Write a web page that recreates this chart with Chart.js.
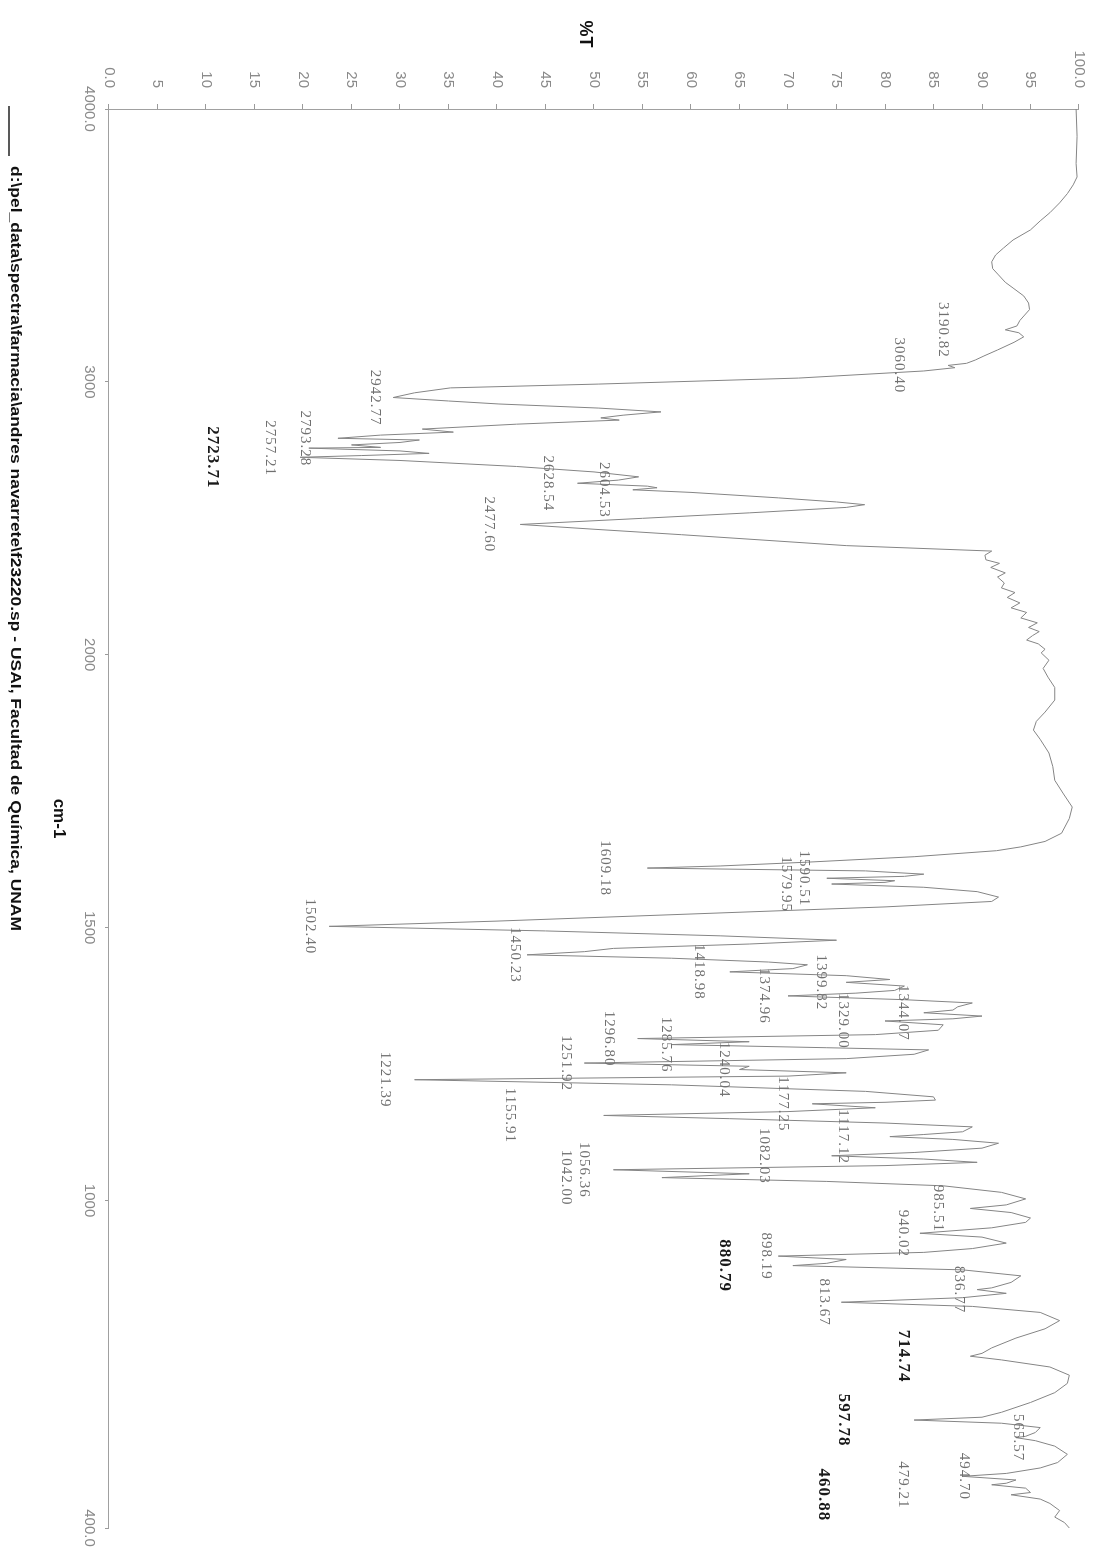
<!DOCTYPE html>
<html>
<head>
<meta charset="utf-8">
<script src="https://cdn.jsdelivr.net/npm/chart.js@4.4.0/dist/chart.umd.min.js"></script>
<style>
  html, body { margin: 0; padding: 0; background: #fff; overflow: hidden; }
  /* the printout is turned a quarter turn clockwise on the page */
  #wrap { position: absolute; left: 0; top: 0; width: 1556px; height: 1104px;
          transform-origin: 0 0; transform: translate(1104px, 0) rotate(90deg); }
</style>
</head>
<body>
<div id="wrap"><canvas id="spectrum" width="1556" height="1104"></canvas></div>
<script>
// wavenumber (cm-1) and transmittance (%T)
var wavenumbers = [
  4000, 3900, 3800, 3751, 3722, 3690, 3656, 3620, 3590, 3557, 3520, 3490, 3465, 3440, 3415, 3392,
  3365, 3344, 3315, 3289, 3265, 3245, 3225, 3205, 3190.82, 3180, 3165, 3145, 3117, 3095, 3080, 3068,
  3060.4, 3052, 3040, 3014, 2992, 2978, 2960, 2942.77, 2930, 2919, 2904, 2890, 2878, 2868, 2860, 2845,
  2827, 2816, 2805, 2793.28, 2787, 2778, 2769, 2760, 2757.21, 2747, 2738, 2730, 2723.71, 2712, 2690, 2670,
  2652, 2640, 2628.54, 2618, 2612, 2604.53, 2595, 2575, 2560, 2550, 2540, 2520, 2500, 2477.6, 2460, 2440,
  2422, 2400, 2380, 2365, 2348, 2335, 2320, 2300, 2285, 2263, 2245, 2228, 2210, 2190, 2172, 2155,
  2135, 2117, 2100, 2085, 2070, 2054, 2040, 2020, 2007, 1990, 1975, 1959, 1940, 1917, 1895, 1878,
  1862, 1845, 1820, 1795, 1770, 1745, 1721, 1700, 1673, 1658, 1648, 1641, 1630, 1620, 1613, 1609.18,
  1604, 1598, 1594, 1590.51, 1586, 1583, 1579.95, 1574, 1566, 1556, 1548, 1538, 1525, 1512, 1502.4, 1494,
  1485, 1477, 1470, 1462, 1456, 1450.23, 1444, 1437, 1432, 1425, 1418.98, 1412, 1405, 1399.82, 1393, 1385,
  1380, 1374.96, 1368, 1362, 1355, 1349, 1344.07, 1338, 1333, 1329, 1322, 1312, 1304, 1296.8, 1291, 1285.76,
  1280, 1276, 1268, 1260, 1251.92, 1246, 1240.04, 1234, 1228, 1221.39, 1212, 1200, 1190, 1184, 1180, 1177.25,
  1170, 1163, 1155.91, 1150, 1142, 1135, 1126, 1121, 1117.12, 1112, 1105, 1096, 1088, 1082.03, 1076, 1070,
  1064, 1056.36, 1049, 1042, 1035, 1027, 1015, 1003, 992, 985.51, 978, 968, 960, 950, 940.02, 933,
  922, 912, 905, 898.19, 892, 885, 880.79, 873, 862, 850, 840, 836.77, 830, 822, 813.67, 806,
  795, 780, 765, 748, 730, 720, 714.74, 708, 695, 680, 665, 648, 630, 612, 603, 597.78,
  592, 584, 575, 568, 565.57, 560, 550, 535, 520, 510, 500, 494.7, 488, 482, 479.21, 473,
  465, 460.88, 453, 445, 432, 420, 410, 400
];
var transmittance = [
  99.7, 99.8, 99.7, 99.8, 99.4, 98.8, 98.0, 97.0, 96.0, 95.0, 93.2, 92.2, 91.4, 91.0, 91.1, 91.7,
  92.4, 93.2, 94.3, 94.8, 94.9, 94.4, 93.9, 93.6, 92.4, 93.8, 94.3, 93.3, 91.6, 90.2, 89.3, 88.4,
  86.5, 87.2, 84.0, 71.1, 50.5, 35.2, 31.5, 29.3, 35.0, 40.2, 50.5, 56.9, 53.0, 50.7, 52.6, 42.0,
  32.3, 35.5, 28.0, 23.6, 32.0, 30.0, 25.0, 28.0, 20.6, 30.0, 33.0, 26.0, 19.7, 30.0, 42.0, 50.0,
  54.6, 52.5, 48.3, 55.5, 56.5, 54.0, 60.0, 69.0, 75.0, 77.9, 76.0, 66.0, 55.0, 42.4, 50.0, 59.0,
  66.7, 76.0, 91.0, 90.3, 90.4, 91.8, 90.9, 92.4, 91.6, 92.3, 92.0, 93.4, 92.6, 93.9, 93.0, 94.6,
  94.0, 95.7, 94.8, 95.9, 95.2, 94.6, 95.8, 96.5, 96.1, 96.9, 96.3, 96.8, 97.5, 97.5, 96.5, 95.6,
  95.3, 96.0, 96.9, 97.3, 97.5, 98.4, 99.3, 99.0, 98.2, 96.5, 94.0, 91.5, 83.0, 72.0, 63.0, 55.5,
  78.0, 84.0, 82.0, 74.0, 81.0, 80.0, 74.5, 84.0, 89.5, 91.7, 91.0, 80.0, 60.0, 40.0, 22.7, 45.0,
  63.0, 75.0, 66.0, 52.0, 49.0, 43.1, 58.0, 68.0, 72.0, 70.5, 64.0, 76.0, 80.5, 76.0, 82.0, 81.0,
  77.0, 70.0, 82.0, 89.0, 87.5, 87.0, 84.0, 90.0, 87.0, 80.0, 86.0, 85.5, 79.0, 54.5, 66.0, 58.0,
  74.0, 84.5, 83.0, 76.0, 49.0, 66.0, 65.0, 76.0, 70.0, 31.5, 58.0, 78.0, 85.0, 85.2, 80.0, 72.5,
  79.0, 70.0, 51.0, 64.0, 80.0, 89.0, 88.0, 84.0, 80.5, 87.0, 91.7, 90.0, 83.0, 74.5, 84.0, 89.5,
  80.0, 52.0, 66.0, 57.0, 74.0, 86.0, 92.0, 94.5, 92.5, 88.8, 93.0, 95.0, 94.5, 91.0, 83.6, 90.0,
  92.5, 89.0, 84.0, 69.0, 76.0, 74.0, 70.5, 88.0, 94.0, 93.0, 91.0, 89.5, 92.5, 88.0, 75.5, 89.0,
  96.0, 98.0, 96.5, 93.5, 91.0, 90.0, 88.8, 92.0, 97.0, 99.0, 98.8, 97.5, 95.0, 92.0, 90.0, 83.0,
  92.0, 96.0, 95.5, 94.5, 93.5, 95.5, 97.5, 98.8, 97.8, 96.0, 92.5, 88.0, 93.5, 92.5, 91.0, 94.5,
  95.0, 93.0, 96.0, 97.0, 98.0, 97.5, 98.5, 99.0
];

// peak labels: text, where its centre sits on the %T axis, bold or not
var peakLabels = ['3190.82', '3060.40', '2942.77', '2793.28', '2757.21', '2723.71', '2628.54', '2604.53',
  '2477.60', '1609.18', '1590.51', '1579.95', '1502.40', '1450.23', '1418.98', '1399.82', '1374.96',
  '1344.07', '1329.00', '1296.80', '1285.76', '1251.92', '1240.04', '1221.39', '1177.25', '1155.91',
  '1117.12', '1082.03', '1056.36', '1042.00', '985.51', '940.02', '898.19', '880.79', '836.77',
  '813.67', '714.74', '597.78', '565.57', '494.70', '479.21', '460.88'];
var peakLabelT = [86.0, 81.4, 27.4, 20.2, 16.6, 10.7, 45.2, 51.0,
  39.2, 51.1, 71.6, 69.8, 20.7, 41.8, 60.8, 73.4, 67.5,
  81.9, 75.7, 51.5, 57.4, 47.1, 63.4, 28.4, 69.5, 41.3,
  75.7, 67.5, 49.0, 47.1, 85.5, 81.9, 67.7, 63.4, 87.6,
  73.7, 81.9, 75.7, 93.7, 88.1, 81.9, 73.7];
var boldLabels = ['2723.71', '880.79', '714.74', '597.78', '460.88'];

var axisTicks = [4000, 3000, 2000, 1500, 1000, 400];
var axisTickLabels = ['4000.0', '3000', '2000', '1500', '1000', '400.0'];
var legendText = 'd:\\pel_data\\spectra\\farmacia\\andres navarrete\\f23220.sp - USAI, Facultad de Química, UNAM';

// above 2000 cm-1 the printout uses half the scale
function toAxis(wn) {
    return wn > 2000 ? 2000 + (wn - 2000) / 2 : wn;
}

var points = wavenumbers.map(function (w, i) { return { x: toAxis(w), y: transmittance[i] }; });

var textPlugin = {
    id: 'spectrumText',
    afterDatasetsDraw: function (chart) {
        var ctx = chart.ctx;
        var xs = chart.scales.x, ys = chart.scales.y;
        ctx.save();
        ctx.textAlign = 'center';
        ctx.textBaseline = 'middle';
        peakLabels.forEach(function (txt, i) {
            var bold = boldLabels.indexOf(txt) >= 0;
            ctx.font = bold ? "bold 17px 'Liberation Serif'" : "15px 'Liberation Serif'";
            ctx.fillStyle = bold ? '#1a1a1a' : '#707070';
            ctx.letterSpacing = '1px';
            ctx.fillText(txt, xs.getPixelForValue(toAxis(parseFloat(txt))), ys.getPixelForValue(peakLabelT[i]));
        });
        ctx.letterSpacing = '0px';

        // %T title, written level like the tick labels
        ctx.font = "bold 18px 'Liberation Sans'";
        ctx.fillStyle = '#111';
        ctx.fillText('%T', 34, (chart.chartArea.top + chart.chartArea.bottom) / 2 + 9);

        // legend line and file name along the bottom
        ctx.strokeStyle = '#222';
        ctx.lineWidth = 1.5;
        ctx.beginPath();
        ctx.moveTo(106, 1095);
        ctx.lineTo(156, 1095);
        ctx.stroke();
        ctx.font = "bold 15px 'Liberation Sans'";
        var w = ctx.measureText(legendText).width;
        ctx.save();
        ctx.translate(166, 1089);
        ctx.scale(765 / w, 1);
        ctx.textAlign = 'left';
        ctx.fillText(legendText, 0, 0);
        ctx.restore();
        ctx.restore();
    }
};

new Chart(document.getElementById('spectrum').getContext('2d'), {
    type: 'scatter',
    data: {
        datasets: [{
            data: points,
            showLine: true,
            borderColor: '#858585',
            borderWidth: 1,
            pointRadius: 0,
            tension: 0
        }]
    },
    options: {
        responsive: false,
        animation: false,
        layout: { padding: { top: 23, right: 28, bottom: 0, left: 0 } },
        scales: {
            x: {
                type: 'linear',
                reverse: true,
                min: 400,
                max: 3000,
                afterBuildTicks: function (scale) {
                    scale.ticks = axisTicks.map(function (v) { return { value: toAxis(v) }; });
                },
                afterFit: function (scale) { scale.height = 109; },
                ticks: {
                    autoSkip: false,
                    maxRotation: 0,
                    padding: 7,
                    color: '#8a8a8a',
                    font: { family: 'Liberation Sans', size: 15 },
                    callback: function (v, i) { return axisTickLabels[i]; }
                },
                grid: { drawOnChartArea: false, drawTicks: true, tickLength: 4, tickColor: '#9a9a9a' },
                border: { color: '#a0a0a0', width: 1 },
                title: {
                    display: true,
                    text: 'cm-1',
                    color: '#111',
                    font: { family: 'Liberation Sans', size: 17, weight: 'bold' },
                    padding: { top: 0, bottom: 48 }
                }
            },
            y: {
                min: 0,
                max: 100,
                afterFit: function (scale) { scale.width = 109; },
                ticks: {
                    stepSize: 5,
                    padding: 16,
                    color: '#8a8a8a',
                    font: { family: 'Liberation Sans', size: 15 },
                    callback: function (v) { return v === 0 ? '0.0' : (v === 100 ? '100.0' : String(v)); }
                },
                grid: { drawOnChartArea: false, drawTicks: true, tickLength: 5, tickColor: '#9a9a9a' },
                border: { color: '#a0a0a0', width: 1 }
            }
        },
        plugins: {
            legend: { display: false },
            tooltip: { enabled: false }
        }
    },
    plugins: [textPlugin]
});
</script>
</body>
</html>
